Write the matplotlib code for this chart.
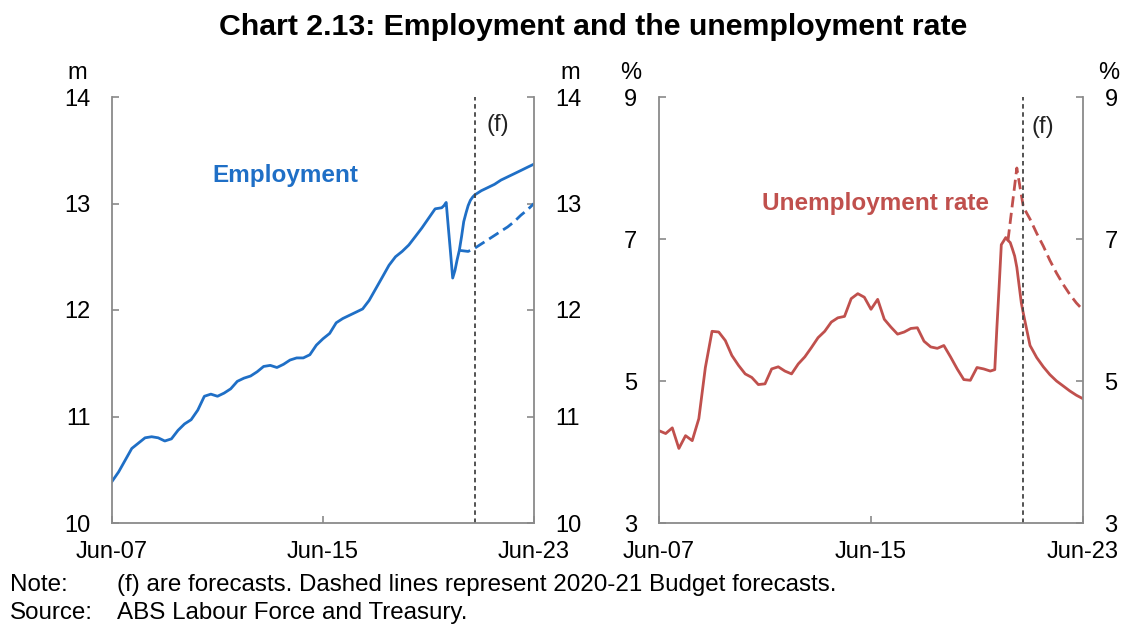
import pandas as pd
import matplotlib
matplotlib.use("Agg")
import matplotlib.pyplot as plt

plt.rcParams['font.family'] = ['Liberation Sans', 'DejaVu Sans']

# quarterly history Jun-07 .. Dec-19, monthly Jan-20 .. Mar-21, quarterly forecasts after
hist_dates = pd.date_range('2007-06-01', '2019-12-01', freq='3MS')
covid_dates = pd.date_range('2020-01-01', '2021-03-01', freq='MS')
fcst_dates = pd.date_range('2021-06-01', '2023-06-01', freq='3MS')
old_dates = pd.to_datetime(['2020-08-01', '2020-12-01', '2021-03-01', '2021-06-01',
                            '2021-09-01', '2021-12-01', '2022-03-01', '2022-06-01',
                            '2022-09-01', '2022-12-01', '2023-03-01', '2023-06-01'])

# employment, millions
emp_hist = [10.39, 10.48, 10.59, 10.70, 10.75, 10.80, 10.81, 10.80, 10.77, 10.79,
            10.87, 10.93, 10.97, 11.06, 11.19, 11.21, 11.19, 11.22, 11.26, 11.33,
            11.36, 11.38, 11.42, 11.47, 11.48, 11.46, 11.49, 11.53, 11.55, 11.55,
            11.58, 11.67, 11.73, 11.78, 11.88, 11.92, 11.95, 11.98, 12.01, 12.09,
            12.20, 12.31, 12.42, 12.50, 12.55, 12.61, 12.69, 12.77, 12.86, 12.95,
            12.96]
emp_covid = [12.98, 13.01, 12.78, 12.54, 12.30, 12.37, 12.47, 12.56, 12.69, 12.83,
             12.91, 12.98, 13.03, 13.06, 13.08]
emp_fcst = [13.12, 13.15, 13.18, 13.22, 13.25, 13.28, 13.31, 13.34, 13.37]
emp_old = [12.56, 12.55, 12.58, 12.62, 12.66, 12.70, 12.74, 12.78, 12.83, 12.89,
           12.94, 13.00]

# unemployment rate, per cent
ur_hist = [4.30, 4.26, 4.34, 4.05, 4.23, 4.16, 4.47, 5.19, 5.70, 5.69,
           5.57, 5.36, 5.22, 5.10, 5.05, 4.95, 4.96, 5.17, 5.20, 5.14,
           5.10, 5.24, 5.34, 5.47, 5.61, 5.70, 5.83, 5.89, 5.91, 6.16,
           6.23, 6.18, 6.01, 6.15, 5.87, 5.76, 5.66, 5.69, 5.74, 5.75,
           5.56, 5.48, 5.46, 5.50, 5.34, 5.17, 5.02, 5.01, 5.19, 5.17,
           5.14]
ur_covid = [5.15, 5.16, 5.75, 6.33, 6.92, 6.97, 7.02, 6.98, 6.95, 6.86,
            6.76, 6.60, 6.35, 6.10, 5.95]
ur_fcst = [5.50, 5.33, 5.20, 5.09, 5.00, 4.93, 4.86, 4.80, 4.75]
ur_old = [6.98, 8.00, 7.45, 7.28, 7.08, 6.90, 6.70, 6.52, 6.36, 6.22, 6.10, 6.00]

x_ticks = pd.to_datetime(['2007-06-01', '2015-06-01', '2023-06-01'])
x_labels = ['Jun-07', 'Jun-15', 'Jun-23']
forecast_start = pd.Timestamp('2021-03-01')

BLUE = '#1f6fc6'
RED = '#c0504d'
GREY = '#8a8a8a'
FS = 17

fig = plt.figure(figsize=(11.27, 6.27), dpi=100)
W, H = 1127, 627


def px_axes(x0, x1, y0, y1):
    return fig.add_axes([x0 / W, 1 - y1 / H, (x1 - x0) / W, (y1 - y0) / H])


def style_axes(ax, ylim, yticks, f_pos):
    ax.set_xlim(x_ticks[0], x_ticks[-1])
    ax.set_ylim(*ylim)
    ax.set_yticks(yticks)
    ax.set_xticks(x_ticks)
    ax.set_xticklabels(x_labels)
    ax.spines['top'].set_visible(False)
    for s in ['left', 'right', 'bottom']:
        ax.spines[s].set_color(GREY)
        ax.spines[s].set_linewidth(1.3)
    ax.tick_params(axis='y', direction='in', left=True, right=True,
                   labelleft=True, labelright=True, length=5, width=1.2,
                   color=GREY, labelsize=FS, pad=15.5)
    ax.tick_params(axis='x', direction='in', length=5, width=1.2,
                   color=GREY, labelsize=FS, pad=13)
    ax.axvline(forecast_start, color='#444444', lw=1.3, dashes=(2.5, 2))
    ax.text(f_pos[0], f_pos[1], '(f)', transform=ax.transAxes, fontsize=FS,
            color='#222222', ha='center', va='center')


# left panel: employment
ax1 = px_axes(112, 534, 97, 523)
ax1.plot(old_dates, emp_old, color=BLUE, lw=2.0, dashes=(4, 2))
ax1.plot(hist_dates.append(covid_dates).append(fcst_dates),
         emp_hist + emp_covid + emp_fcst, color=BLUE, lw=2.0)
style_axes(ax1, (10, 14), [10, 11, 12, 13, 14], (0.915, 0.935))
ax1.text(0.237, 0.815, 'Employment', transform=ax1.transAxes, fontsize=FS + 0.5,
         fontweight='bold', color=BLUE, ha='left', va='center')

# right panel: unemployment rate
ax2 = px_axes(659, 1083, 97, 523)
ax2.plot(old_dates, ur_old, color=RED, lw=2.0, dashes=(4, 2))
ax2.plot(hist_dates.append(covid_dates).append(fcst_dates),
         ur_hist + ur_covid + ur_fcst, color=RED, lw=2.0)
style_axes(ax2, (3, 9), [3, 5, 7, 9], (0.905, 0.93))
ax2.text(0.243, 0.75, 'Unemployment rate', transform=ax2.transAxes,
         fontsize=FS + 0.5, fontweight='bold', color=RED, ha='left', va='center')

# units above the tick label columns
for ux, unit in [(77, 'm'), (570, 'm'), (631, '%'), (1109, '%')]:
    fig.text(ux / W, 1 - 73 / H, unit, fontsize=FS, ha='center', va='center')

fig.text(593 / W, 1 - 27 / H, 'Chart 2.13: Employment and the unemployment rate',
         fontsize=21.8, fontweight='bold', ha='center', va='center')

fig.text(10 / W, 1 - 585 / H, 'Note:', fontsize=FS + 0.4, ha='left', va='center')
fig.text(117 / W, 1 - 585 / H,
         '(f) are forecasts. Dashed lines represent 2020-21 Budget forecasts.',
         fontsize=FS + 0.4, ha='left', va='center')
fig.text(10 / W, 1 - 613 / H, 'Source:', fontsize=FS + 0.4, ha='left', va='center')
fig.text(117 / W, 1 - 613 / H, 'ABS Labour Force and Treasury.',
         fontsize=FS + 0.4, ha='left', va='center')

fig.savefig('out.png', dpi=100)
